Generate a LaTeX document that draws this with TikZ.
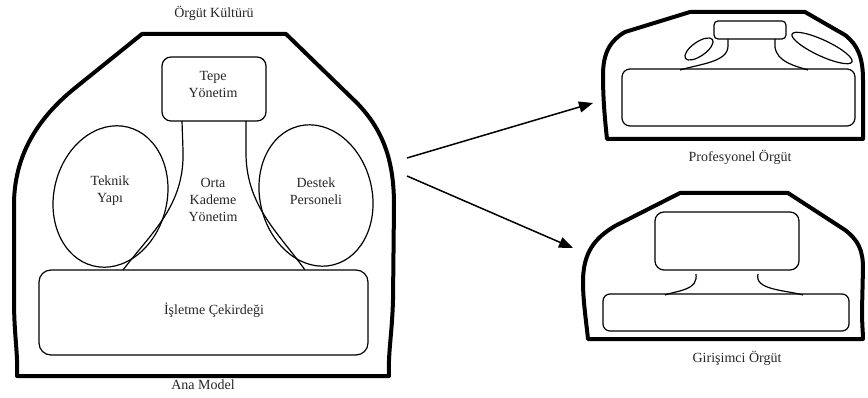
\documentclass[tikz,border=0pt]{standalone}
\usepackage{fontspec}
\setmainfont{Liberation Serif}
\usetikzlibrary{arrows.meta,shapes.geometric}
\begin{document}
\begin{tikzpicture}[x=1pt,y=-1pt,
 outer/.style={line width=4pt, line join=round},
 thinline/.style={line width=1.2pt},
 rbox/.style={draw, line width=1.2pt, rounded corners=#1, inner sep=0pt},
 rbox/.default=9pt,
 oval/.style={draw, line width=1.2pt, ellipse, inner sep=0pt},
 txt/.style={font=\fontsize{14}{17}\selectfont, align=center, text=black!85, inner sep=0pt},
 arr/.style={line width=1.5pt, -{Triangle[length=14pt,width=11pt]}}]
\useasboundingbox (0,0) rectangle (868,398);

% ---------- Ana Model ----------
\draw[outer] (142,34) -- (286,34) -- (357,103)
  .. controls (383,130) and (394,160) .. (394,205) -- (393,300)
  .. controls (392,335) and (388,352) .. (389,376) -- (17,376)
  .. controls (18,352) and (14,335) .. (14,300) -- (14,205)
  .. controls (14,155) and (38,118) .. (75,88) -- cycle;

\node[rbox, minimum width=104pt, minimum height=64pt] (tepe) at (214,89) {};
\node[rbox=12pt, minimum width=329pt, minimum height=85pt] (core) at (203.5,312.5) {};
\node[oval, minimum width=113pt, minimum height=143pt, rotate=-14] (teknik) at (110.5,196.5) {};
\node[oval, minimum width=112pt, minimum height=143pt, rotate=14] (destek) at (316,195.5) {};

\coordinate (oL1) at (182,121);
\coordinate (oL2) at (123,270);
\coordinate (oR1) at (246,121);
\coordinate (oR2) at (305,270);
\draw[thinline] (oL1) -- (183,150) .. controls (185,205) and (152,232) .. (oL2);
\draw[thinline] (oR1) -- (246,150) .. controls (245,205) and (278,232) .. (oR2);

\node[txt] (kultur) at (214,13) {Örgüt Kültürü};
\node[txt] (anamodel) at (203,385) {Ana Model};
\node[txt] (tepetxt) at (213,84) {Tepe\\Yönetim};
\node[txt] (tekniktxt) at (110,191) {Teknik\\Yapı};
\node[txt] (destektxt) at (316,191) {Destek\\Personeli};
\node[txt] (ortatxt) at (213,200) {Orta\\Kademe\\Yönetim};
\node[txt] (coretxt) at (214,310) {İşletme Çekirdeği};

% ---------- Profesyonel Örgüt ----------
\draw[outer] (690,12) -- (805,12) -- (845,35)
  .. controls (858,45) and (863,58) .. (863,80) -- (863,139) -- (607,139)
  .. controls (605,120) and (603,100) .. (603,75)
  .. controls (603,52) and (611,40) .. (625,32) -- cycle;
\node[rbox=4pt, minimum width=72pt, minimum height=18pt] (ptop) at (750,30) {};
\node[rbox=8pt, minimum width=233pt, minimum height=57pt] (pbox) at (738.5,97.5) {};
\node[oval, minimum width=33pt, minimum height=14pt, rotate=35] (pleft) at (699,49) {};
\node[oval, minimum width=66pt, minimum height=16pt, rotate=-25] (pright) at (822,48) {};
\coordinate (pL1) at (728,39);
\coordinate (pL2) at (680,70);
\coordinate (pR1) at (775,39);
\coordinate (pR2) at (808,70);
\draw[thinline] (pL1) -- (728,46) .. controls (728,62) and (700,64) .. (pL2);
\draw[thinline] (pR1) -- (775,47) .. controls (777,62) and (795,66) .. (pR2);
\node[txt] (proftxt) at (740,157) {Profesyonel Örgüt};

% ---------- Girişimci Örgüt ----------
\draw[outer] (680,193) -- (788,193) -- (845,230)
  .. controls (858,240) and (863,250) .. (863,268) -- (862,310)
  .. controls (862,325) and (863,333) .. (863,339) -- (588,339)
  .. controls (586,320) and (583,300) .. (583,282)
  .. controls (583,252) and (595,238) .. (615,226) -- cycle;
\node[rbox, minimum width=144pt, minimum height=58pt] (gtop) at (727,241) {};
\node[rbox=7pt, minimum width=246pt, minimum height=37pt] (gbox) at (726,312.5) {};
\coordinate (gL1) at (696,274);
\coordinate (gL2) at (665,295);
\coordinate (gR1) at (758,274);
\coordinate (gR2) at (803,295);
\draw[thinline] (gL1) .. controls (698,290) and (680,290) .. (gL2);
\draw[thinline] (gR1) .. controls (754,290) and (785,290) .. (gR2);
\node[txt] (girtxt) at (737,358) {Girişimci Örgüt};

% ---------- Arrows ----------
\coordinate (a1s) at (407,158);
\coordinate (a1e) at (593,103);
\coordinate (a2s) at (407,176);
\coordinate (a2e) at (573,248);
\draw[arr] (a1s) -- (a1e);
\draw[arr] (a2s) -- (a2e);
\end{tikzpicture}
\end{document}
